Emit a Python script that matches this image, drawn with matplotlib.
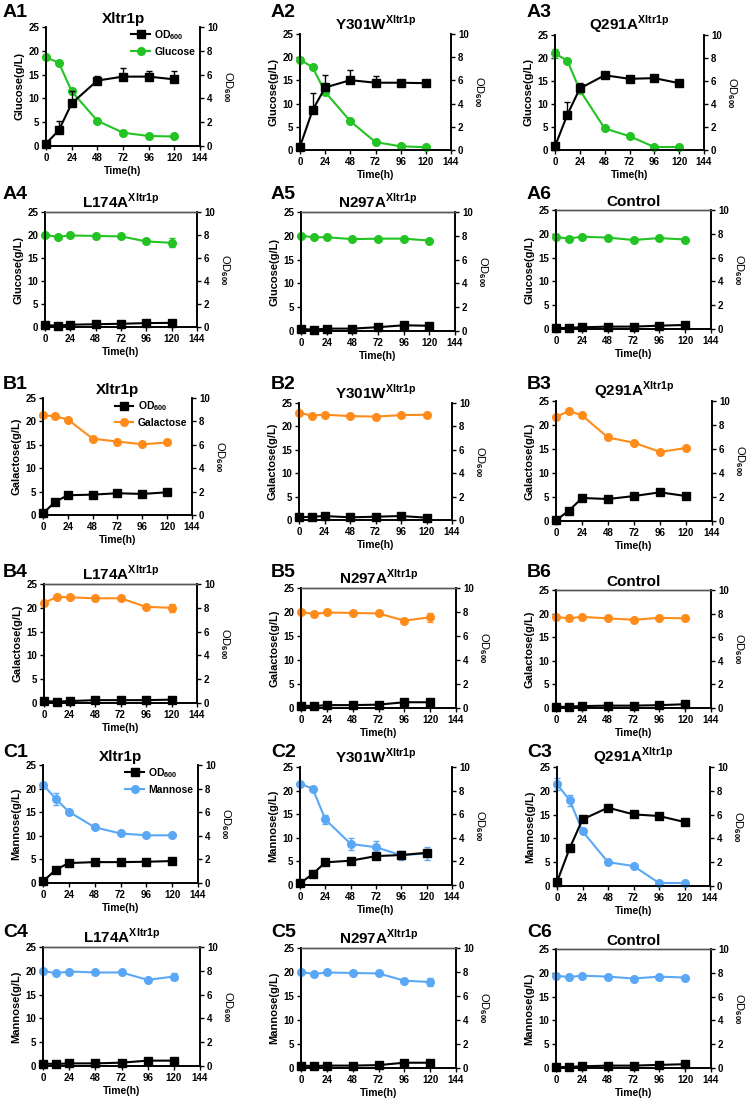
import matplotlib
matplotlib.use('Agg')
import matplotlib.pyplot as plt

plt.rcParams['font.family'] = 'Liberation Sans'
plt.rcParams['font.weight'] = 'bold'
plt.rcParams['mathtext.fontset'] = 'custom'
plt.rcParams['mathtext.rm'] = 'Liberation Sans:bold'
plt.rcParams['mathtext.bf'] = 'Liberation Sans:bold'
plt.rcParams['axes.linewidth'] = 1.2

# sampling times (h)
time = [0, 12, 24, 48, 72, 96, 120]

# ---- glucose panels (A) ----
A1_sugar = [18.6, 17.5, 11.5, 5.3, 2.8, 2.1, 2.0]
A1_sugar_err = [0.3, 0.3, 0.6, 0.3, 0.3, 0.3, 0.3]
A1_od = [0.2, 1.32, 3.58, 5.5, 5.83, 5.83, 5.6]
A1_od_err = [0, 0.8, 1.0, 0.4, 0.75, 0.5, 0.7]

A2_sugar = [19.5, 17.8, 12.5, 6.2, 1.7, 0.8, 0.6]
A2_sugar_err = [0.3, 0.3, 0.3, 0.3, 0.3, 0.2, 0.2]
A2_od = [0.3, 3.43, 5.39, 6.02, 5.8, 5.8, 5.76]
A2_od_err = [0, 1.45, 1.1, 0.85, 0.55, 0, 0]

A3_sugar = [21.0, 19.4, 13.0, 4.7, 3.0, 0.65, 0.65]
A3_sugar_err = [1.0, 0.3, 0.3, 0.3, 0.3, 0.2, 0.2]
A3_od = [0.32, 3.08, 5.35, 6.5, 6.19, 6.25, 5.81]
A3_od_err = [0, 1.1, 0.5, 0, 0, 0, 0]

A4_sugar = [20.0, 19.6, 19.9, 19.8, 19.7, 18.6, 18.3]
A4_sugar_err = [0.3, 0.3, 0.3, 0.3, 0.3, 0.4, 1.0]
A4_od = [0.16, 0.12, 0.2, 0.24, 0.28, 0.34, 0.36]
A4_od_err = [0, 0, 0, 0, 0, 0, 0]

A5_sugar = [20.0, 19.7, 19.7, 19.3, 19.4, 19.4, 19.0]
A5_sugar_err = [0.2, 0.2, 0.2, 0.2, 0.2, 0.2, 0.4]
A5_od = [0.16, 0.12, 0.2, 0.2, 0.32, 0.48, 0.44]
A5_od_err = [0, 0, 0, 0, 0, 0, 0]

A6_sugar = [19.3, 19.0, 19.4, 19.2, 18.7, 19.1, 18.8]
A6_sugar_err = [0.2, 0.2, 0.2, 0.2, 0.2, 0.2, 0.3]
A6_od = [0.06, 0.11, 0.14, 0.2, 0.2, 0.28, 0.34]
A6_od_err = [0, 0, 0, 0, 0, 0, 0]

# ---- galactose panels (B) ----
B1_sugar = [21.3, 21.1, 20.4, 16.3, 15.7, 15.1, 15.5]
B1_sugar_err = [0, 0, 0, 0, 0, 0, 0]
B1_od = [0.14, 1.14, 1.69, 1.74, 1.86, 1.8, 1.94]
B1_od_err = [0, 0, 0, 0, 0, 0, 0]

B2_sugar = [22.9, 22.3, 22.5, 22.2, 22.1, 22.4, 22.5]
B2_sugar_err = [0, 0, 0, 0, 0, 0, 0]
B2_od = [0.23, 0.28, 0.34, 0.23, 0.28, 0.34, 0.2]
B2_od_err = [0, 0, 0, 0, 0, 0, 0]

B3_sugar = [21.7, 22.9, 22.0, 17.4, 16.3, 14.4, 15.2]
B3_sugar_err = [0, 0, 0, 0, 0, 0, 0]
B3_od = [0.06, 0.86, 1.92, 1.83, 2.08, 2.39, 2.08]
B3_od_err = [0, 0, 0, 0, 0, 0, 0]

B4_sugar = [21.0, 22.3, 22.2, 22.0, 22.0, 20.2, 20.0]
B4_sugar_err = [0.2, 0.3, 0.3, 0.3, 0.3, 0.4, 0.8]
B4_od = [0.16, 0.12, 0.16, 0.24, 0.24, 0.24, 0.28]
B4_od_err = [0, 0, 0, 0, 0, 0, 0]

B5_sugar = [20.0, 19.6, 19.9, 19.8, 19.7, 18.2, 18.9]
B5_sugar_err = [0.2, 0.3, 0.3, 0.3, 0.3, 0.4, 0.9]
B5_od = [0.2, 0.16, 0.24, 0.24, 0.28, 0.48, 0.48]
B5_od_err = [0, 0, 0, 0, 0, 0, 0]

B6_sugar = [19.3, 19.0, 19.3, 19.0, 18.7, 19.1, 19.0]
B6_sugar_err = [0.2, 0.2, 0.2, 0.2, 0.2, 0.2, 0.3]
B6_od = [0.08, 0.12, 0.16, 0.2, 0.2, 0.24, 0.32]
B6_od_err = [0, 0, 0, 0, 0, 0, 0]

# ---- mannose panels (C) ----
C1_sugar = [20.85, 17.8, 15.1, 11.8, 10.5, 10.1, 10.1]
C1_sugar_err = [0.3, 1.3, 0.4, 0.4, 0.3, 0.3, 0.3]
C1_od = [0.14, 1.13, 1.69, 1.77, 1.77, 1.8, 1.86]
C1_od_err = [0, 0, 0, 0, 0, 0, 0]

C2_sugar = [21.5, 20.4, 13.9, 8.7, 8.0, 6.3, 6.7]
C2_sugar_err = [0.3, 0.3, 1.0, 1.2, 1.3, 0.9, 1.3]
C2_od = [0.14, 0.93, 1.92, 2.06, 2.45, 2.54, 2.73]
C2_od_err = [0, 0, 0, 0, 0, 0, 0.2]

C3_sugar = [21.4, 18.0, 11.5, 5.0, 4.2, 0.63, 0.63]
C3_sugar_err = [1.3, 1.2, 0.4, 0.3, 0.3, 0.2, 0.2]
C3_od = [0.34, 3.19, 5.6, 6.58, 6.02, 5.88, 5.38]
C3_od_err = [0, 0, 0, 0, 0, 0, 0]

C4_sugar = [19.96, 19.5, 19.85, 19.65, 19.65, 18.1, 18.8]
C4_sugar_err = [0.2, 0.3, 0.3, 0.3, 0.3, 0.3, 0.8]
C4_od = [0.2, 0.17, 0.22, 0.22, 0.28, 0.45, 0.45]
C4_od_err = [0, 0, 0, 0, 0, 0, 0]

C5_sugar = [20.0, 19.6, 19.9, 19.8, 19.7, 18.2, 17.9]
C5_sugar_err = [0.2, 0.3, 0.3, 0.3, 0.3, 0.4, 0.8]
C5_od = [0.2, 0.16, 0.2, 0.2, 0.24, 0.44, 0.44]
C5_od_err = [0, 0, 0, 0, 0, 0, 0]

C6_sugar = [19.4, 19.1, 19.4, 19.2, 18.8, 19.2, 19.0]
C6_sugar_err = [0.2, 0.3, 0.3, 0.3, 0.3, 0.3, 0.3]
C6_od = [0.06, 0.1, 0.14, 0.2, 0.2, 0.26, 0.32]
C6_od_err = [0, 0, 0, 0, 0, 0, 0]

strains = ['Xltr1p', r'Y301W$^{\mathbf{Xltr1p}}$', r'Q291A$^{\mathbf{Xltr1p}}$',
           r'L174A$^{\mathbf{Xltr1p}}$', r'N297A$^{\mathbf{Xltr1p}}$', 'Control']
sugars = ['Glucose', 'Galactose', 'Mannose']
colors = ['#22c322', '#ff8c1a', '#5aa8f5']

panels = [
    ('A1', A1_sugar, A1_sugar_err, A1_od, A1_od_err),
    ('A2', A2_sugar, A2_sugar_err, A2_od, A2_od_err),
    ('A3', A3_sugar, A3_sugar_err, A3_od, A3_od_err),
    ('A4', A4_sugar, A4_sugar_err, A4_od, A4_od_err),
    ('A5', A5_sugar, A5_sugar_err, A5_od, A5_od_err),
    ('A6', A6_sugar, A6_sugar_err, A6_od, A6_od_err),
    ('B1', B1_sugar, B1_sugar_err, B1_od, B1_od_err),
    ('B2', B2_sugar, B2_sugar_err, B2_od, B2_od_err),
    ('B3', B3_sugar, B3_sugar_err, B3_od, B3_od_err),
    ('B4', B4_sugar, B4_sugar_err, B4_od, B4_od_err),
    ('B5', B5_sugar, B5_sugar_err, B5_od, B5_od_err),
    ('B6', B6_sugar, B6_sugar_err, B6_od, B6_od_err),
    ('C1', C1_sugar, C1_sugar_err, C1_od, C1_od_err),
    ('C2', C2_sugar, C2_sugar_err, C2_od, C2_od_err),
    ('C3', C3_sugar, C3_sugar_err, C3_od, C3_od_err),
    ('C4', C4_sugar, C4_sugar_err, C4_od, C4_od_err),
    ('C5', C5_sugar, C5_sugar_err, C5_od, C5_od_err),
    ('C6', C6_sugar, C6_sugar_err, C6_od, C6_od_err),
]

# axes boxes in pixels: x0, x1, ytop, ybottom
boxes = [
    (46, 200, 27, 146), (300, 451, 34, 150), (555, 704, 35, 150),
    (45, 197, 212, 327), (301, 455, 212, 331), (556, 711, 210, 329),
    (43, 192, 398, 515), (299, 452, 403, 520), (556, 712, 401, 521),
    (44, 197, 584, 703), (301, 456, 588, 708), (556, 711, 590, 708),
    (43, 198, 765, 883), (300, 452, 767, 885), (557, 710, 767, 886),
    (43, 200, 947, 1066), (301, 456, 948, 1068), (556, 711, 949, 1068),
]
label_x = [3, 271, 527]
label_y = [4, 186, 376, 564, 744, 924]

W, H = 750, 1102
fig = plt.figure(figsize=(W / 100, H / 100), dpi=100)

for i, (name, sug, sug_err, od, od_err) in enumerate(panels):
    row, col = i // 3, i % 3
    group = row // 2
    strain = strains[(row % 2) * 3 + col]
    x0, x1, yt, yb = boxes[i]
    ax = fig.add_axes([x0 / W, 1 - yb / H, (x1 - x0) / W, (yb - yt) / H])
    ax2 = ax.twinx()

    c = colors[group]
    h1 = ax.errorbar(time, sug, yerr=sug_err, color=c, marker='o', ms=5.5,
                     lw=1.5, capsize=2.5, elinewidth=1, clip_on=False, zorder=3)
    h2 = ax2.errorbar(time, od, yerr=[[0] * len(od_err), od_err], color='black',
                      marker='s', ms=5.5, lw=1.5, capsize=2.5, elinewidth=1,
                      clip_on=False, zorder=3)

    ax.set_xlim(0, 144)
    ax.set_ylim(0, 25)
    ax2.set_ylim(0, 10)
    ax.set_xticks([0, 24, 48, 72, 96, 120, 144])
    ax.set_yticks([0, 5, 10, 15, 20, 25])
    ax2.set_yticks([0, 2, 4, 6, 8, 10])
    for a in (ax, ax2):
        a.tick_params(direction='out', length=3, width=1, labelsize=7, pad=2)
        if row % 2 == 0:
            a.spines['top'].set_visible(False)
        else:
            a.spines['top'].set_color('#555555')
            a.spines['top'].set_linewidth(1.0)

    ax.set_xlabel('Time(h)', fontsize=7.5, fontweight='bold', labelpad=2)
    ax.set_ylabel(sugars[group] + '(g/L)', fontsize=8, fontweight='bold', labelpad=3)
    ax2.set_ylabel(r'OD$_{\mathbf{600}}$', fontsize=8, rotation=270,
                   labelpad=12)
    ax.set_title(strain, fontsize=11, fontweight='bold', pad=3)

    if row % 2 == 0 and col == 0:
        ax2.legend([h2.lines[0], h1.lines[0]],
                   [r'OD$_{\mathbf{600}}$', sugars[group]],
                   loc='upper right', bbox_to_anchor=(1.03, 1.07), frameon=False,
                   fontsize=7.5, handlelength=1.8, handletextpad=0.4,
                   labelspacing=0.45)

    fig.text(label_x[col] / W, 1 - label_y[row] / H, name, fontsize=14,
             fontweight='bold', va='top', ha='left')

fig.savefig('out.png', dpi=100)
